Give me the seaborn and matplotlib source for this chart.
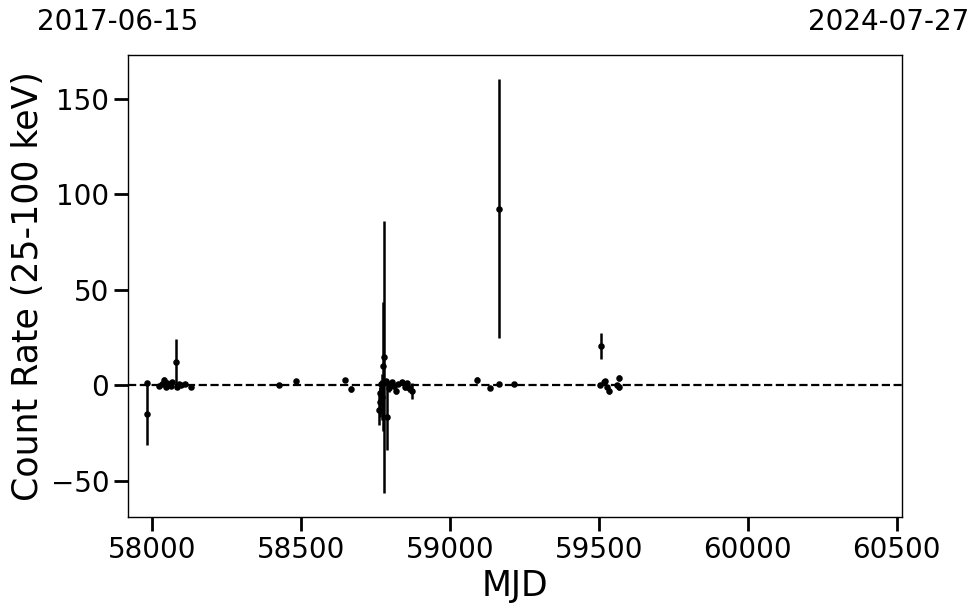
import numpy as np
import pandas as pd
import matplotlib
matplotlib.use("Agg")
import matplotlib.pyplot as plt
import seaborn as sns

# Data
mjd = [57983, 57983, 58024, 58033, 58040, 58045, 58050, 58056, 58062, 58068,
       58080, 58082, 58090, 58098, 58110, 58130,
       58427, 58483, 58648, 58667,
       58762, 58764, 58766, 58769, 58772, 58775, 58778, 58781, 58784, 58790,
       58795, 58800, 58806, 58812, 58820, 58826, 58840, 58848, 58856, 58862, 58872,
       59092, 59133, 59164, 59164, 59215,
       59505, 59508, 59517, 59522, 59528, 59535, 59560, 59567, 59568]
rate = [1.2, -15.0, -0.5, 0.5, 2.5, -0.8, 1.0, 0.2, -0.5, 1.5,
        12.0, -0.8, 0.8, 0.3, 0.5, -1.0,
        0.4, 2.3, 3.0, -2.0,
        -13.0, -8.7, -4.0, 0.5, -6.0, 10.0, 14.8, 1.5, 2.0, -16.6,
        -1.5, 0.5, 1.5, -0.5, -3.0, 0.8, 1.5, -0.8, 1.0, -1.5, -3.0,
        2.6, -1.2, 92.5, 0.5, 0.5,
        0.2, 20.5, 1.5, 2.2, -1.0, -3.0, 0.0, 3.7, -1.0]
err = [1.0, 16.5, 1.0, 1.0, 2.0, 1.0, 1.2, 1.0, 1.0, 1.0,
       12.0, 1.0, 1.0, 1.0, 1.0, 1.0,
       0.8, 1.0, 1.0, 1.5,
       8.0, 8.0, 3.0, 2.0, 12.0, 33.7, 71.0, 2.0, 1.5, 17.4,
       2.0, 1.5, 1.0, 1.5, 1.5, 1.0, 1.2, 1.5, 1.0, 2.0, 4.0,
       1.5, 1.0, 68.0, 1.0, 0.8,
       1.0, 7.0, 1.0, 1.2, 1.0, 1.5, 1.0, 1.5, 1.5]
x_limits = [57919, 60518]
date_labels = ["2017-06-15", "2024-07-27"]

df = pd.DataFrame({"MJD": mjd, "rate": rate, "err": err})

sns.set_theme(style="ticks")
plt.rcParams['font.family'] = ['DejaVu Sans']

fig = plt.figure(figsize=(9.8, 6.13), dpi=100)
ax = fig.add_axes([0.1306, 0.1566, 0.7898, 0.7537])

ax.errorbar(df["MJD"], df["rate"], yerr=df["err"], fmt="none",
            ecolor="black", elinewidth=1.8, capsize=0, zorder=2)
sns.scatterplot(data=df, x="MJD", y="rate", ax=ax, color="black",
                s=22, edgecolor="black", linewidth=0, zorder=3, legend=False)
ax.axhline(0, color="black", linestyle="--", linewidth=1.6, zorder=1)

ax.set_xlim(*x_limits)
ax.set_ylim(-69, 173)
ax.set_xticks([58000, 58500, 59000, 59500, 60000, 60500])
ax.set_yticks([-50, 0, 50, 100, 150])
ax.tick_params(axis="both", which="major", labelsize=20, length=10, width=2,
               direction="out", color="black", labelcolor="black")
for sp in ax.spines.values():
    sp.set_linewidth(1.0)
    sp.set_color("black")
ax.set_xlabel("MJD", fontsize=25, color="black")
ax.set_ylabel("Count Rate (25-100 keV)", fontsize=25, color="black")

fig.text(118 / 980, 1 - 22 / 613, date_labels[0], ha="center", va="center",
         fontsize=20, color="black")
fig.text(889 / 980, 1 - 22 / 613, date_labels[1], ha="center", va="center",
         fontsize=20, color="black")

fig.savefig("out.png", dpi=100)
